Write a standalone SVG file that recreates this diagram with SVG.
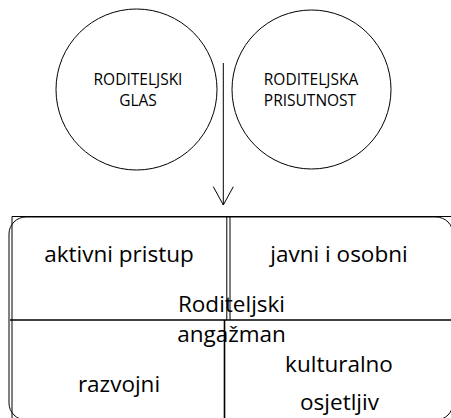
<svg xmlns="http://www.w3.org/2000/svg" width="451" height="418" viewBox="0 0 451 418">
<style>
.ln{fill:none;stroke:#000;stroke-width:1}
.c{fill:#fff;stroke:#000;stroke-width:1}
.t{font-family:"Open Sans","Liberation Sans",sans-serif;fill:#000;text-anchor:middle}
.s{font-size:15.5px}
.b{font-size:22.5px}
</style>
<g id="connectors">
<line class="ln" x1="223.3" y1="63" x2="223.3" y2="205"/>
<polyline class="ln" points="213.3,186.7 223.3,205 233.3,186.7"/>
</g>
<g id="circle-glas">
<circle class="c" cx="136.5" cy="89.5" r="80.5"/>
<text class="t s" x="138" y="85">RODITELJSKI</text>
<text class="t s" x="138" y="105.5">GLAS</text>
</g>
<g id="circle-prisutnost">
<circle class="c" cx="311.5" cy="89.5" r="79.5"/>
<text class="t s" x="311" y="85">RODITELJSKA</text>
<text class="t s" x="310" y="105.5">PRISUTNOST</text>
</g>
<g id="matrix">
<rect class="ln" x="9" y="217" width="444" height="203" rx="17"/>
<path class="ln" d="M12,418 V216.5 H451"/>
<line class="ln" x1="226.8" y1="216.5" x2="226.8" y2="320"/>
<line class="ln" x1="230" y1="216.5" x2="230" y2="320"/>
<line class="ln" x1="10" y1="320" x2="451" y2="320" style="stroke-width:1.6"/>
<line class="ln" x1="224.5" y1="320" x2="224.5" y2="418" style="stroke-width:1.6"/>
</g>
<g id="q-aktivni"><text class="t b" x="119" y="261.5">aktivni pristup</text></g>
<g id="q-javni"><text class="t b" x="339" y="261.5">javni i osobni</text></g>
<g id="q-razvojni"><text class="t b" x="119" y="391.5">razvojni</text></g>
<g id="q-kulturalno"><text class="t b" x="339" y="371.5">kulturalno</text><text class="t b" x="339.5" y="409.5">osjetljiv</text></g>
<g id="center"><text class="t b" x="231.5" y="312">Roditeljski</text><text class="t b" x="231.5" y="341.5">angažman</text></g>
</svg>
